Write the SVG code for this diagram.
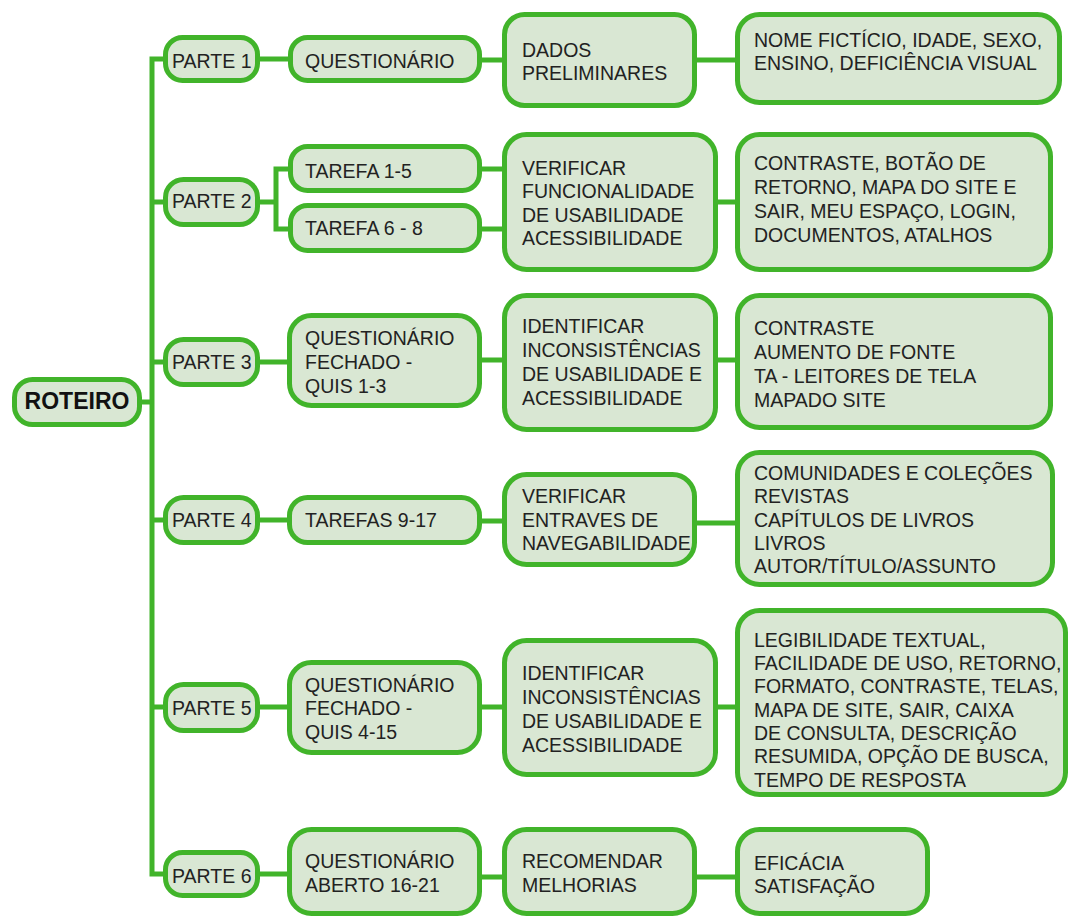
<svg xmlns="http://www.w3.org/2000/svg" width="1071" height="918" viewBox="0 0 1071 918">
<style>
.n rect{fill:#d9e7d3;stroke:#41b42a;stroke-width:5}
.n text{font-family:"Liberation Sans",Arial,sans-serif;font-size:19.5px;fill:#222}
#roteiro text{font-weight:bold;font-size:23px;fill:#111}
#links path{fill:none;stroke:#41b42a;stroke-width:5}
</style>
<rect width="1071" height="918" fill="#fff"/>
<g id="links">
<path d="M142 402H152"/>
<path d="M163 59H152V874H163"/>
<path d="M152 202H163M152 362H163M152 520H163M152 707H163"/>
<path d="M260 59H288M482 60H502M697 60H735"/>
<path d="M260 202H276M288 169H276V229H288M482 169H502M482 229H502M718 202H735"/>
<path d="M260 362H287M482 360H502M718 360H735"/>
<path d="M260 520H287M482 521H502M697 523H735"/>
<path d="M260 707H287M482 707H502M718 707H735"/>
<path d="M260 874H287M482 877H502M697 877H735"/>
</g>
<g id="roteiro" class="n"><rect x="14.5" y="379.5" width="125" height="45" rx="18"/><text x="77" y="409" text-anchor="middle">ROTEIRO</text></g>

<g id="parte1" class="n"><rect x="165.5" y="37.5" width="92" height="43" rx="17"/><text x="172" y="68">PARTE 1</text></g>
<g id="quest1" class="n"><rect x="290.5" y="37.5" width="189" height="43" rx="17"/><text x="305" y="68">QUESTIONÁRIO</text></g>
<g id="dados" class="n"><rect x="504.5" y="14.5" width="190" height="91" rx="20"/><text x="522"><tspan x="522" y="57">DADOS</tspan><tspan x="522" y="80">PRELIMINARES</tspan></text></g>
<g id="nome" class="n"><rect x="737.5" y="14.5" width="322" height="88" rx="22"/><text><tspan x="754" y="47">NOME FICTÍCIO, IDADE, SEXO,</tspan><tspan x="754" y="70">ENSINO, DEFICIÊNCIA VISUAL</tspan></text></g>

<g id="parte2" class="n"><rect x="165.5" y="179.5" width="92" height="45" rx="18"/><text x="172" y="208">PARTE 2</text></g>
<g id="tarefa15" class="n"><rect x="290.5" y="146.5" width="189" height="44" rx="17"/><text x="305" y="178">TAREFA 1-5</text></g>
<g id="tarefa68" class="n"><rect x="290.5" y="205.5" width="189" height="45" rx="17"/><text x="305" y="235">TAREFA 6 - 8</text></g>
<g id="verificar2" class="n"><rect x="504.5" y="134.5" width="211" height="135" rx="22"/><text><tspan x="522" y="175">VERIFICAR</tspan><tspan x="522" y="198">FUNCIONALIDADE</tspan><tspan x="522" y="222">DE USABILIDADE</tspan><tspan x="522" y="245">ACESSIBILIDADE</tspan></text></g>
<g id="contraste2" class="n"><rect x="737.5" y="134.5" width="313" height="135" rx="22"/><text><tspan x="754" y="170">CONTRASTE, BOTÃO DE</tspan><tspan x="754" y="194">RETORNO, MAPA DO SITE E</tspan><tspan x="754" y="218">SAIR, MEU ESPAÇO, LOGIN,</tspan><tspan x="754" y="242">DOCUMENTOS, ATALHOS</tspan></text></g>

<g id="parte3" class="n"><rect x="165.5" y="339.5" width="92" height="45" rx="18"/><text x="172" y="369">PARTE 3</text></g>
<g id="quest3" class="n"><rect x="289.5" y="315.5" width="190" height="90" rx="22"/><text><tspan x="305" y="345">QUESTIONÁRIO</tspan><tspan x="305" y="369">FECHADO -</tspan><tspan x="305" y="393">QUIS 1-3</tspan></text></g>
<g id="identificar3" class="n"><rect x="504.5" y="295.5" width="211" height="134" rx="22"/><text><tspan x="522" y="333">IDENTIFICAR</tspan><tspan x="522" y="357">INCONSISTÊNCIAS</tspan><tspan x="522" y="381">DE USABILIDADE E</tspan><tspan x="522" y="405">ACESSIBILIDADE</tspan></text></g>
<g id="contraste3" class="n"><rect x="737.5" y="295.5" width="313" height="132" rx="22"/><text><tspan x="754" y="335">CONTRASTE</tspan><tspan x="754" y="359">AUMENTO DE FONTE</tspan><tspan x="754" y="383">TA - LEITORES DE TELA</tspan><tspan x="754" y="407">MAPADO SITE</tspan></text></g>

<g id="parte4" class="n"><rect x="165.5" y="497.5" width="92" height="45" rx="18"/><text x="172" y="527">PARTE 4</text></g>
<g id="tarefas917" class="n"><rect x="289.5" y="497.5" width="190" height="45" rx="18"/><text x="305" y="527">TAREFAS 9-17</text></g>
<g id="verificar4" class="n"><rect x="504.5" y="474.5" width="190" height="90" rx="22"/><text><tspan x="522" y="503">VERIFICAR</tspan><tspan x="522" y="527">ENTRAVES DE</tspan><tspan x="522" y="550">NAVEGABILIDADE</tspan></text></g>
<g id="comunidades" class="n"><rect x="737.5" y="452.5" width="315" height="132" rx="22"/><text><tspan x="754" y="480">COMUNIDADES E COLEÇÕES</tspan><tspan x="754" y="503">REVISTAS</tspan><tspan x="754" y="527">CAPÍTULOS DE LIVROS</tspan><tspan x="754" y="550">LIVROS</tspan><tspan x="754" y="573">AUTOR/TÍTULO/ASSUNTO</tspan></text></g>

<g id="parte5" class="n"><rect x="165.5" y="684.5" width="92" height="46" rx="18"/><text x="172" y="715">PARTE 5</text></g>
<g id="quest5" class="n"><rect x="289.5" y="662.5" width="190" height="90" rx="22"/><text><tspan x="305" y="692">QUESTIONÁRIO</tspan><tspan x="305" y="715">FECHADO -</tspan><tspan x="305" y="739">QUIS 4-15</tspan></text></g>
<g id="identificar5" class="n"><rect x="504.5" y="640.5" width="211" height="134" rx="22"/><text><tspan x="522" y="680">IDENTIFICAR</tspan><tspan x="522" y="704">INCONSISTÊNCIAS</tspan><tspan x="522" y="728">DE USABILIDADE E</tspan><tspan x="522" y="752">ACESSIBILIDADE</tspan></text></g>
<g id="legibilidade" class="n"><rect x="737.5" y="610.5" width="328" height="184" rx="22"/><text><tspan x="754" y="647">LEGIBILIDADE TEXTUAL,</tspan><tspan x="754" y="670">FACILIDADE DE USO, RETORNO,</tspan><tspan x="754" y="693">FORMATO, CONTRASTE, TELAS,</tspan><tspan x="754" y="717">MAPA DE SITE, SAIR, CAIXA</tspan><tspan x="754" y="740">DE CONSULTA, DESCRIÇÃO</tspan><tspan x="754" y="763">RESUMIDA, OPÇÃO DE BUSCA,</tspan><tspan x="754" y="787">TEMPO DE RESPOSTA</tspan></text></g>

<g id="parte6" class="n"><rect x="165.5" y="852.5" width="92" height="43" rx="17"/><text x="172" y="883">PARTE 6</text></g>
<g id="quest6" class="n"><rect x="289.5" y="829.5" width="190" height="84" rx="22"/><text><tspan x="305" y="868">QUESTIONÁRIO</tspan><tspan x="305" y="892">ABERTO 16-21</tspan></text></g>
<g id="recomendar" class="n"><rect x="504.5" y="829.5" width="190" height="84" rx="22"/><text><tspan x="522" y="868">RECOMENDAR</tspan><tspan x="522" y="892">MELHORIAS</tspan></text></g>
<g id="eficacia" class="n"><rect x="737.5" y="829.5" width="190" height="84" rx="22"/><text><tspan x="754" y="870">EFICÁCIA</tspan><tspan x="754" y="893">SATISFAÇÃO</tspan></text></g>
</svg>
